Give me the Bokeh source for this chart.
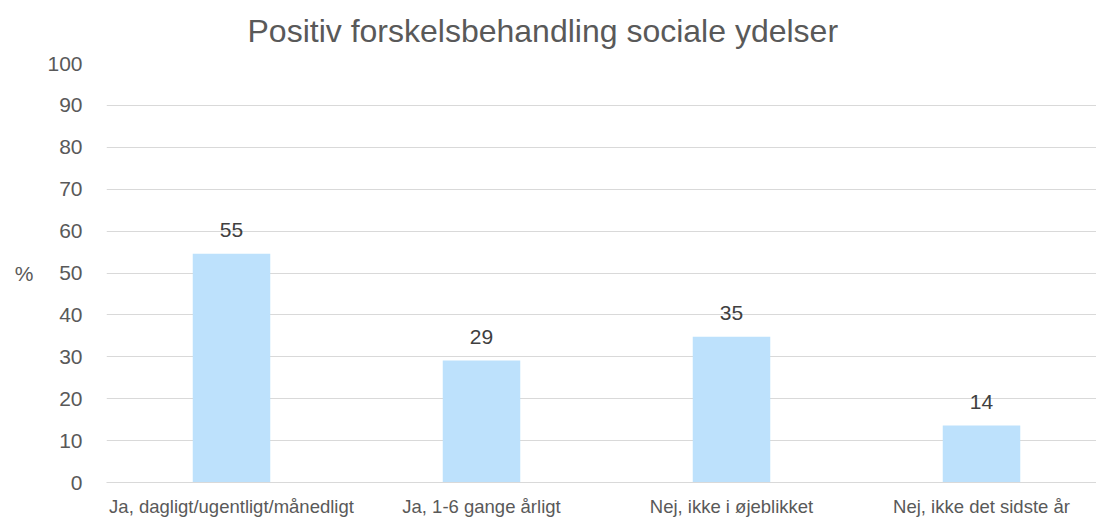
from bokeh.plotting import figure
from bokeh.models import ColumnDataSource, Range1d, FixedTicker, LabelSet
from bokeh.core.properties import value
from bokeh.embed import file_html
from bokeh.resources import INLINE

categories = ["Ja, dagligt/ugentligt/månedligt", "Ja, 1-6 gange årligt",
              "Nej, ikke i øjeblikket", "Nej, ikke det sidste år"]
values = [54.6, 29.1, 34.8, 13.6]
labels = [str(int(round(v))) for v in values]
y_ticks = list(range(0, 101, 10))

FONT = "Liberation Sans"
GREY = "#595959"

xs = list(range(len(categories)))
src = ColumnDataSource(dict(x=xs, top=values, lab=labels))

p = figure(width=1096, height=519, output_backend="svg", toolbar_location=None,
           x_range=Range1d(-0.5, 3.46), y_range=Range1d(0, 100),
           min_border_left=106, min_border_right=0, min_border_top=63,
           min_border_bottom=33, outline_line_color=None,
           title="Positiv forskelsbehandling sociale ydelser")

p.title.align = "left"
p.title.vertical_align = "top"
p.title.text_font = FONT
p.title.text_font_size = "32px"
p.title.text_font_style = "normal"
p.title.text_color = GREY
p.title.offset = 141
p.title.standoff = 25

p.vbar(x="x", top="top", width=0.31, source=src, fill_color="#BDE1FC", line_color=None)

ls = LabelSet(x="x", y="top", text="lab", source=src, text_align="center",
              text_baseline="bottom", y_offset=17, text_font=value(FONT),
              text_font_size=value("21px"), text_color=value("#404040"))
p.add_layout(ls)

p.xaxis.ticker = FixedTicker(ticks=xs)
p.xaxis.major_label_overrides = {i: c for i, c in enumerate(categories)}
p.xaxis.major_label_text_font = FONT
p.xaxis.major_label_text_font_size = "18.5px"
p.xaxis.major_label_text_color = GREY
p.xaxis.major_tick_line_color = None
p.xaxis.minor_tick_line_color = None
p.xaxis.axis_line_color = "#D9D9D9"
p.xaxis.major_label_standoff = 7

p.yaxis.ticker = FixedTicker(ticks=y_ticks)
p.yaxis.major_label_text_font = FONT
p.yaxis.major_label_text_font_size = "21px"
p.yaxis.major_label_text_color = GREY
p.yaxis.major_tick_line_color = None
p.yaxis.minor_tick_line_color = None
p.yaxis.axis_line_color = None
p.yaxis.major_label_standoff = 18
p.yaxis.axis_label = "%"
p.yaxis.axis_label_text_font = FONT
p.yaxis.axis_label_text_font_size = "21px"
p.yaxis.axis_label_text_font_style = "normal"
p.yaxis.axis_label_text_color = GREY
p.yaxis.axis_label_standoff = 11
try:
    p.yaxis.axis_label_orientation = "horizontal"
except Exception:
    pass

p.xgrid.grid_line_color = None
p.ygrid.grid_line_color = "#D9D9D9"
p.ygrid.ticker = FixedTicker(ticks=y_ticks)

open("out.html", "w").write(file_html(p, INLINE))
